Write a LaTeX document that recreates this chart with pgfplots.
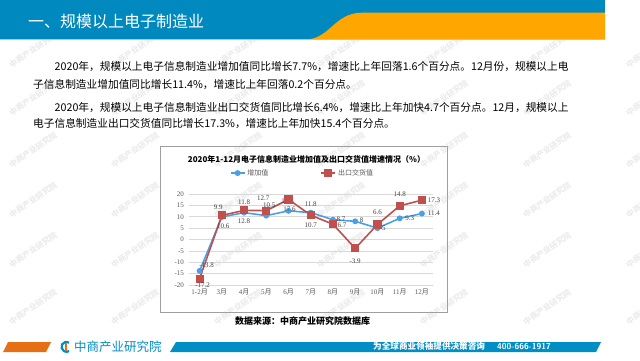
\documentclass[border=0pt]{standalone}
\usepackage{fontspec}
\setmainfont{Liberation Serif}
\newfontfamily\cjk{Noto Sans CJK SC}
\usepackage{pgfplots}
\usepackage{pgfplotstable}
\pgfplotsset{compat=1.18}
\definecolor{hblue}{RGB}{0,137,190}
\definecolor{horange}{RGB}{255,166,0}
\definecolor{forange}{RGB}{230,110,20}
\definecolor{fblue}{RGB}{0,142,196}
\definecolor{sblue}{RGB}{74,160,232}
\definecolor{sred}{RGB}{192,80,77}
\definecolor{tgray}{RGB}{89,89,89}
\definecolor{lgray}{RGB}{64,64,64}
\definecolor{wm}{RGB}{236,236,236}

\pgfplotstableread{
x y dx dy lab
0 -13.8 7 6 -13.8
1 9.9 -3.5 10 9.9
2 11.8 0 10 11.8
3 10.5 3 10.5 10.5
4 12.6 -1 10 12.6
5 11.8 0 8 11.8
6 8.7 8 0.5 8.7
7 8 6.5 1 8
8 5 6.5 0 5
9 9.3 10 0 9.3
10 11.4 12 0 11.4
}\addval

\pgfplotstableread{
x y dx dy lab
0 -17.2 3 -7 -17.2
1 10.6 1.5 -11 10.6
2 12.8 0 -10.6 12.8
3 12.7 -3 12 12.7
4 17.6 1 -9.5 17.6
5 10.7 0 -10.5 10.7
6 6.7 9 -0.5 6.7
7 -3.9 0 -13 -3.9
8 6.6 0 12.5 6.6
9 14.8 0 12 14.8
10 17.3 12 0 17.3
}\expval

\begin{document}
\begin{tikzpicture}[x=1pt,y=1pt]
\path[use as bounding box] (0,0) rectangle (640,360);
\fill[white] (0,0) rectangle (640,360);
% faint watermarks
\foreach \wx in {8,110,213,316,419,522,625}{
  \foreach \wy in {53,110,160,210,262,310}{
    \node[rotate=35, text=wm, font=\cjk\bfseries\fontsize{8}{8}\selectfont, inner sep=0] at (\wx+25,\wy) {中商产业研究院};
  }
}
% header
\fill[hblue] (0,320.5) rectangle (605,360);
\fill[horange] (305,320.5) .. controls (330,320.5) and (334,347.3) .. (362,347.3) -- (605,347.3) -- (605,320.5) -- cycle;
\draw[hblue!40, line width=0.8] (0,320.2) -- (605,320.2);
\node[anchor=west, text=white, font=\cjk\fontsize{16}{16}\selectfont, inner sep=0] at (28,339) {一、规模以上电子制造业};

% body text
\begin{scope}[every node/.style={anchor=base west, inner sep=0, font=\cjk\fontsize{10.7}{12}\selectfont}]
\node at (54.5,289.5) {2020年，规模以上电子信息制造业增加值同比增长7.7\%，增速比上年回落1.6个百分点。12月份，规模以上电};
\node at (33,272) {子信息制造业增加值同比增长11.4\%，增速比上年回落0.2个百分点。};
\node at (54.5,249) {2020年，规模以上电子信息制造业出口交货值同比增长6.4\%，增速比上年加快4.7个百分点。12月，规模以上};
\node at (33,233) {电子信息制造业出口交货值同比增长17.3\%，增速比上年加快15.4个百分点。};
\end{scope}

% chart frame
\draw[gray!75, line width=0.8] (160,48) rectangle (447,214);
\node[font=\cjk\bfseries\fontsize{8}{9}\selectfont, inner sep=0] at (306.5,201) {2020年1-12月电子信息制造业增加值及出口交货值增速情况（\%）};

\begin{axis}[
  at={(188.5pt,75pt)}, anchor=south west,
  width=244.5pt, height=91pt, scale only axis,
  xmin=-0.5, xmax=10.5, ymin=-20, ymax=20,
  ytick={-20,-15,-10,-5,0,5,10,15,20},
  yticklabels={-20,-15,-10,-5,0,5,10,15,20},
  xtick={0,1,2,3,4,5,6,7,8,9,10},
  xticklabels={{1-2{\cjk 月}},{3{\cjk 月}},{4{\cjk 月}},{5{\cjk 月}},{6{\cjk 月}},{7{\cjk 月}},{8{\cjk 月}},{9{\cjk 月}},{10{\cjk 月}},{11{\cjk 月}},{12{\cjk 月}}},
  ymajorgrids, grid style={gray!30, line width=0.6},
  axis line style={draw=none},
  major tick length=0pt,
  tick label style={font=\fontsize{7}{8}\selectfont, text=tgray},
  yticklabel style={xshift=-1pt},
  xticklabel style={yshift=0pt},
  clip=false,
  legend style={at={(0.466,1.23)}, anchor=center, draw=none, fill=none,
    legend columns=2, font=\cjk\fontsize{7}{8}\selectfont, text=tgray,
    /tikz/every even column/.append style={column sep=50pt}},
  legend image code/.code={\draw[mark repeat=2,mark phase=2,#1] plot coordinates {(0pt,0pt) (7pt,0pt) (14pt,0pt)};},
  point meta=explicit symbolic,
  nodes near coords,
  visualization depends on={\thisrow{dx} \as \dx},
  visualization depends on={\thisrow{dy} \as \dy},
  every node near coord/.append style={anchor=center, xshift=\dx pt, yshift=\dy pt, font=\fontsize{7}{8}\selectfont, text=lgray, inner sep=0},
]
\addplot[sblue, line width=1.6pt, mark=*, mark size=2.1pt, mark options={fill=sblue, draw=sblue}] table[x=x, y=y, meta=lab] {\addval};
\addlegendentry{增加值}
\addplot[sred, line width=1.6pt, mark=square*, mark size=3.3pt, mark options={fill=sred, draw=sred}] table[x=x, y=y, meta=lab] {\expval};
\addlegendentry{出口交货值}
\end{axis}

\node[font=\cjk\bfseries\fontsize{9}{10}\selectfont, inner sep=0] at (302.5,39) {数据来源：中商产业研究院数据库};

% footer
\fill[forange] (3,8) -- (46,8) -- (51,18) -- (8,18) -- cycle;
\fill[fblue] (170,8) -- (596,8) -- (601,18) -- (176,18) -- cycle;
\draw[fblue, line width=2.2] (69,17.5) arc (60:300:5);
\fill[forange] (64.5,9.5) rectangle (67,17);
\node[anchor=west, inner sep=0, text=fblue, font=\cjk\fontsize{12.5}{13}\selectfont] at (74,13.3) {中商产业研究院};
\node[anchor=west, inner sep=0, text=white, font=\cjk\bfseries\fontsize{8.6}{9}\selectfont] at (373,13.3) {为全球商业领袖提供决策咨询};
\node[anchor=west, inner sep=0, text=white, font=\bfseries\sffamily\fontsize{8.6}{9}\selectfont] at (497,13.3) {400-666-1917};
\end{tikzpicture}
\end{document}
